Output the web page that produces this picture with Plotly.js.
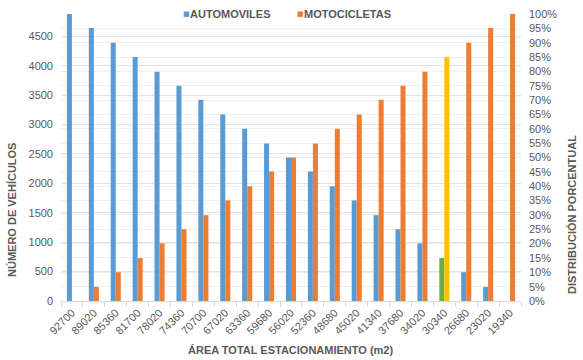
<!DOCTYPE html>
<html><head><meta charset="utf-8">
<script src="https://cdn.plot.ly/plotly-3.0.1.min.js"></script>
<style>html,body{margin:0;padding:0;background:#fff}#chart{width:583px;height:360px}</style>
</head><body><div id="chart"></div>
<script>
var areas = ['92700','89020','85360','81700','78020','74360','70700','67020','63360','59680','56020','52360','48680','45020','41340','37680','34020','30340','26680','23020','19340'];
var automoviles = [4880,4640,4390,4150,3900,3660,3420,3170,2930,2680,2440,2200,1950,1710,1460,1220,980,730,490,240,0];
var motocicletas = [0,240,490,730,980,1220,1460,1710,1950,2200,2440,2680,2930,3170,3420,3660,3900,4150,4390,4640,4880];
var highlightArea = '30340';
var totalVehiculos = 4880;

var autoColors = areas.map(function(a){ return a === highlightArea ? '#70AD47' : '#5B9BD5'; });
var motoColors = areas.map(function(a){ return a === highlightArea ? '#FFC000' : '#ED7D31'; });
var gray = '#595959';
var fontFam = 'Liberation Sans, Arial, sans-serif';

var data = [
  {type:'bar', name:'AUTOMOVILES', x:areas, y:automoviles, marker:{color:autoColors}},
  {type:'bar', name:'MOTOCICLETAS', x:areas, y:motocicletas, marker:{color:motoColors}},
  {type:'scatter', mode:'lines', x:[areas[0]], y:[null], yaxis:'y2', showlegend:false, hoverinfo:'skip'}
];

var L = 61, R = 62, T = 14, B = 59, W = 583, H = 360;
var pw = W - L - R, ph = H - T - B;
function px(x){ return (x - L) / pw; }
function py(y){ return (H - B - y) / ph; }
var bold = {family:fontFam, size:11, color:gray, weight:'bold'};

var layout = {
  width:W, height:H,
  margin:{l:L, r:R, t:T, b:B, autoexpand:false},
  paper_bgcolor:'#fff', plot_bgcolor:'#fff',
  font:{family:fontFam, color:gray, size:11},
  barmode:'group', bargap:0.54, bargroupgap:0,
  showlegend:false,
  xaxis:{type:'category', automargin:false, range:[-0.5, areas.length - 0.5], tickangle:-45, tickson:'boundaries', ticks:'outside', ticklen:5, tickcolor:'#d9d9d9',
         showline:true, linecolor:'#d9d9d9', showgrid:false, tickfont:{size:11, color:gray}},
  yaxis:{automargin:false, range:[0,totalVehiculos], dtick:500, tick0:0, showgrid:true, gridcolor:'#e3e3e3', zeroline:false,
         showline:false, ticks:'', ticklabelstandoff:7, tickfont:{size:11, color:gray}},
  yaxis2:{automargin:false, overlaying:'y', side:'right', range:[0,1], dtick:0.05, tick0:0, tickformat:'.0%', showgrid:true,
          gridcolor:'#efefef', zeroline:false, showline:false, ticks:'', ticklabelstandoff:7,
          tickfont:{size:11, color:gray}},
  annotations:[
    {xref:'paper', yref:'paper', x:px(12), y:py(210), text:'NÚMERO DE VEHÍCULOS', textangle:-90, showarrow:false, font:bold, xanchor:'center', yanchor:'middle'},
    {xref:'paper', yref:'paper', x:px(572), y:py(215), text:'DISTRIBUCIÓN PORCENTUAL', textangle:-90, showarrow:false, font:bold, xanchor:'center', yanchor:'middle'},
    {xref:'paper', yref:'paper', x:px(290), y:py(350), text:'ÁREA TOTAL ESTACIONAMIENTO (m2)', showarrow:false, font:bold, xanchor:'center', yanchor:'middle'},
    {xref:'paper', yref:'paper', x:px(181), y:py(14), text:'■', showarrow:false, font:{family:'DejaVu Sans', size:7, color:'#5B9BD5'}, xanchor:'left', yanchor:'middle'},
    {xref:'paper', yref:'paper', x:px(188), y:py(14), text:'AUTOMOVILES', showarrow:false, font:bold, xanchor:'left', yanchor:'middle'},
    {xref:'paper', yref:'paper', x:px(295), y:py(14), text:'■', showarrow:false, font:{family:'DejaVu Sans', size:7, color:'#ED7D31'}, xanchor:'left', yanchor:'middle'},
    {xref:'paper', yref:'paper', x:px(302), y:py(14), text:'MOTOCICLETAS', showarrow:false, font:bold, xanchor:'left', yanchor:'middle'}
  ]
};
Plotly.newPlot('chart', data, layout, {displayModeBar:false, staticPlot:true});
</script></body></html>
